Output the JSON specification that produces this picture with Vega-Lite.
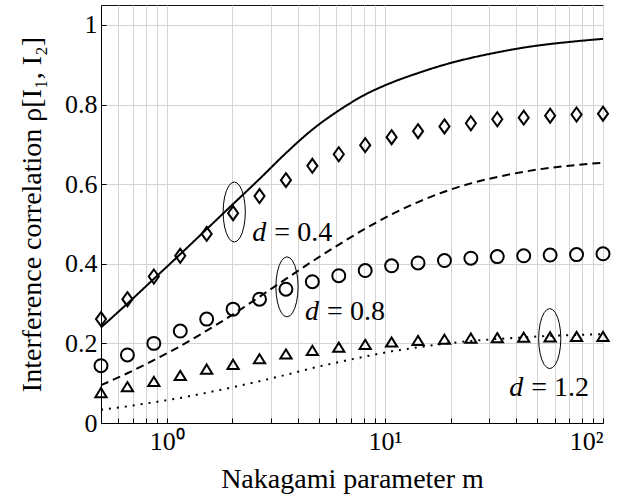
{
  "$schema": "https://vega.github.io/schema/vega-lite/v6.json",
  "autosize": "none",
  "width": 502,
  "height": 418,
  "padding": {"left": 101, "top": 5, "right": 37, "bottom": 76},
  "background": "white",
  "config": {
    "font": "Liberation Serif",
    "view": {"stroke": "#111", "strokeWidth": 1},
    "axis": {
      "labelFont": "Liberation Serif",
      "titleFont": "Liberation Serif",
      "labelFontSize": 26,
      "titleFontSize": 28,
      "titleFontWeight": "normal",
      "labelColor": "black",
      "titleColor": "black",
      "domainColor": "black",
      "tickColor": "black",
      "tickSize": -5,
      "gridColor": "#d4d4d4",
      "gridWidth": 1
    }
  },
  "datasets": {
    "pts": [
      {"m": 0.5, "s": "d04", "v": 0.261}, {"m": 0.6608, "s": "d04", "v": 0.311}, {"m": 0.8733, "s": "d04", "v": 0.368}, {"m": 1.1542, "s": "d04", "v": 0.42}, {"m": 1.5253, "s": "d04", "v": 0.475}, {"m": 2.0159, "s": "d04", "v": 0.527}, {"m": 2.6642, "s": "d04", "v": 0.57}, {"m": 3.521, "s": "d04", "v": 0.61}, {"m": 4.6533, "s": "d04", "v": 0.646}, {"m": 6.1498, "s": "d04", "v": 0.675}, {"m": 8.1275, "s": "d04", "v": 0.698}, {"m": 10.741, "s": "d04", "v": 0.718}, {"m": 14.196, "s": "d04", "v": 0.733}, {"m": 18.761, "s": "d04", "v": 0.745}, {"m": 24.795, "s": "d04", "v": 0.753}, {"m": 32.769, "s": "d04", "v": 0.763}, {"m": 43.307, "s": "d04", "v": 0.767}, {"m": 57.235, "s": "d04", "v": 0.772}, {"m": 75.64, "s": "d04", "v": 0.775}, {"m": 100, "s": "d04", "v": 0.777},
      {"m": 0.5, "s": "d08", "v": 0.144}, {"m": 0.6608, "s": "d08", "v": 0.171}, {"m": 0.8733, "s": "d08", "v": 0.2}, {"m": 1.1542, "s": "d08", "v": 0.231}, {"m": 1.5253, "s": "d08", "v": 0.261}, {"m": 2.0159, "s": "d08", "v": 0.286}, {"m": 2.6642, "s": "d08", "v": 0.311}, {"m": 3.521, "s": "d08", "v": 0.336}, {"m": 4.6533, "s": "d08", "v": 0.355}, {"m": 6.1498, "s": "d08", "v": 0.37}, {"m": 8.1275, "s": "d08", "v": 0.383}, {"m": 10.741, "s": "d08", "v": 0.395}, {"m": 14.196, "s": "d08", "v": 0.402}, {"m": 18.761, "s": "d08", "v": 0.408}, {"m": 24.795, "s": "d08", "v": 0.414}, {"m": 32.769, "s": "d08", "v": 0.418}, {"m": 43.307, "s": "d08", "v": 0.42}, {"m": 57.235, "s": "d08", "v": 0.422}, {"m": 75.64, "s": "d08", "v": 0.423}, {"m": 100, "s": "d08", "v": 0.425},
      {"m": 0.5, "s": "d12", "v": 0.076}, {"m": 0.6608, "s": "d12", "v": 0.091}, {"m": 0.8733, "s": "d12", "v": 0.104}, {"m": 1.1542, "s": "d12", "v": 0.119}, {"m": 1.5253, "s": "d12", "v": 0.135}, {"m": 2.0159, "s": "d12", "v": 0.147}, {"m": 2.6642, "s": "d12", "v": 0.161}, {"m": 3.521, "s": "d12", "v": 0.173}, {"m": 4.6533, "s": "d12", "v": 0.182}, {"m": 6.1498, "s": "d12", "v": 0.19}, {"m": 8.1275, "s": "d12", "v": 0.197}, {"m": 10.741, "s": "d12", "v": 0.203}, {"m": 14.196, "s": "d12", "v": 0.207}, {"m": 18.761, "s": "d12", "v": 0.21}, {"m": 24.795, "s": "d12", "v": 0.213}, {"m": 32.769, "s": "d12", "v": 0.214}, {"m": 43.307, "s": "d12", "v": 0.215}, {"m": 57.235, "s": "d12", "v": 0.216}, {"m": 75.64, "s": "d12", "v": 0.217}, {"m": 100, "s": "d12", "v": 0.217}
    ],
    "lines": [
      {"m": 0.5, "s": "d04", "v": 0.24}, {"m": 0.6608, "s": "d04", "v": 0.3}, {"m": 0.8733, "s": "d04", "v": 0.362}, {"m": 1.1542, "s": "d04", "v": 0.424}, {"m": 1.5253, "s": "d04", "v": 0.487}, {"m": 2.0159, "s": "d04", "v": 0.55}, {"m": 2.6642, "s": "d04", "v": 0.613}, {"m": 3.521, "s": "d04", "v": 0.678}, {"m": 4.6533, "s": "d04", "v": 0.737}, {"m": 6.1498, "s": "d04", "v": 0.785}, {"m": 8.1275, "s": "d04", "v": 0.825}, {"m": 10.741, "s": "d04", "v": 0.855}, {"m": 14.196, "s": "d04", "v": 0.879}, {"m": 18.761, "s": "d04", "v": 0.9}, {"m": 24.795, "s": "d04", "v": 0.917}, {"m": 32.769, "s": "d04", "v": 0.931}, {"m": 43.307, "s": "d04", "v": 0.943}, {"m": 57.235, "s": "d04", "v": 0.952}, {"m": 75.64, "s": "d04", "v": 0.959}, {"m": 100, "s": "d04", "v": 0.965},
      {"m": 0.5, "s": "d08", "v": 0.095}, {"m": 0.6608, "s": "d08", "v": 0.125}, {"m": 0.8733, "s": "d08", "v": 0.158}, {"m": 1.1542, "s": "d08", "v": 0.193}, {"m": 1.5253, "s": "d08", "v": 0.232}, {"m": 2.0159, "s": "d08", "v": 0.273}, {"m": 2.6642, "s": "d08", "v": 0.317}, {"m": 3.521, "s": "d08", "v": 0.362}, {"m": 4.6533, "s": "d08", "v": 0.406}, {"m": 6.1498, "s": "d08", "v": 0.448}, {"m": 8.1275, "s": "d08", "v": 0.488}, {"m": 10.741, "s": "d08", "v": 0.524}, {"m": 14.196, "s": "d08", "v": 0.555}, {"m": 18.761, "s": "d08", "v": 0.581}, {"m": 24.795, "s": "d08", "v": 0.602}, {"m": 32.769, "s": "d08", "v": 0.618}, {"m": 43.307, "s": "d08", "v": 0.631}, {"m": 57.235, "s": "d08", "v": 0.641}, {"m": 75.64, "s": "d08", "v": 0.648}, {"m": 100, "s": "d08", "v": 0.654},
      {"m": 0.5, "s": "d12", "v": 0.033}, {"m": 0.6608, "s": "d12", "v": 0.042}, {"m": 0.8733, "s": "d12", "v": 0.052}, {"m": 1.1542, "s": "d12", "v": 0.063}, {"m": 1.5253, "s": "d12", "v": 0.076}, {"m": 2.0159, "s": "d12", "v": 0.09}, {"m": 2.6642, "s": "d12", "v": 0.105}, {"m": 3.521, "s": "d12", "v": 0.121}, {"m": 4.6533, "s": "d12", "v": 0.138}, {"m": 6.1498, "s": "d12", "v": 0.153}, {"m": 8.1275, "s": "d12", "v": 0.167}, {"m": 10.741, "s": "d12", "v": 0.18}, {"m": 14.196, "s": "d12", "v": 0.19}, {"m": 18.761, "s": "d12", "v": 0.199}, {"m": 24.795, "s": "d12", "v": 0.206}, {"m": 32.769, "s": "d12", "v": 0.211}, {"m": 43.307, "s": "d12", "v": 0.215}, {"m": 57.235, "s": "d12", "v": 0.219}, {"m": 75.64, "s": "d12", "v": 0.221}, {"m": 100, "s": "d12", "v": 0.223}
    ],
    "ell": [
      {"m": 2.04, "v": 0.53}, {"m": 3.56, "v": 0.342}, {"m": 57, "v": 0.212}
    ],
    "labs": [
      {"m": 2.47, "v": 0.477, "t": "= 0.4"}, {"m": 4.31, "v": 0.279, "t": "= 0.8"}, {"m": 37.2, "v": 0.088, "t": "= 1.2"}
    ]
  },
  "encoding": {
    "x": {
      "field": "m", "type": "quantitative",
      "scale": {"type": "log", "domain": [0.5, 100], "nice": false},
      "axis": {
        "title": "Nakagami parameter m",
        "values": [0.5, 0.6, 0.7, 0.8, 0.9, 1, 2, 3, 4, 5, 6, 7, 8, 9, 10, 20, 30, 40, 50, 60, 70, 80, 90, 100],
        "labelExpr": "datum.value == 1 ? '10⁰' : datum.value == 10 ? '10¹' : datum.value == 100 ? '10²' : ''",
        "labelPadding": 10,
        "titlePadding": 11,
        "grid": true
      }
    },
    "y": {
      "field": "v", "type": "quantitative",
      "scale": {"domain": [0, 1.05], "nice": false},
      "axis": {
        "title": "Interference correlation ρ[I₁, I₂]",
        "values": [0, 0.2, 0.4, 0.6, 0.8, 1],
        "format": "~g",
        "labelPadding": 9,
        "titlePadding": 18,
        "grid": true
      }
    }
  },
  "layer": [
    {
      "data": {"name": "lines"},
      "mark": {"type": "line", "color": "black", "strokeWidth": 2, "interpolate": "monotone"},
      "encoding": {
        "detail": {"field": "s"},
        "strokeDash": {"field": "s", "type": "nominal", "scale": {"domain": ["d04", "d08", "d12"], "range": [[1, 0], [8, 5], [2, 6]]}, "legend": null}
      }
    },
    {
      "data": {"name": "pts"},
      "mark": {"type": "point", "filled": false, "color": "black", "strokeWidth": 2, "opacity": 1},
      "encoding": {
        "shape": {"field": "s", "type": "nominal", "scale": {"domain": ["d04", "d08", "d12"], "range": ["M0,-1L0.72,0L0,1L-0.72,0Z", "circle", "M0,-0.8L0.95,0.75L-0.95,0.75Z"]}, "legend": null},
        "size": {"field": "s", "type": "nominal", "scale": {"domain": ["d04", "d08", "d12"], "range": [196, 140, 196]}, "legend": null}
      }
    },
    {
      "data": {"name": "ell"},
      "mark": {"type": "point", "filled": false, "color": "black", "strokeWidth": 1, "opacity": 1, "size": 3600,
        "shape": "M0.37,0L0.357,0.259L0.32,0.5L0.262,0.707L0.185,0.866L0.096,0.966L0,1L-0.096,0.966L-0.185,0.866L-0.262,0.707L-0.32,0.5L-0.357,0.259L-0.37,0L-0.357,-0.259L-0.32,-0.5L-0.262,-0.707L-0.185,-0.866L-0.096,-0.966L0,-1L0.096,-0.966L0.185,-0.866L0.262,-0.707L0.32,-0.5L0.357,-0.259Z"}
    },
    {
      "data": {"name": "labs"},
      "mark": {"type": "text", "align": "left", "baseline": "middle", "fontSize": 28, "fontStyle": "italic", "color": "black", "font": "Liberation Serif"},
      "encoding": {"text": {"value": "d"}}
    },
    {
      "data": {"name": "labs"},
      "mark": {"type": "text", "align": "left", "baseline": "middle", "fontSize": 28, "dx": 22, "color": "black", "font": "Liberation Serif"},
      "encoding": {"text": {"field": "t"}}
    }
  ]
}
